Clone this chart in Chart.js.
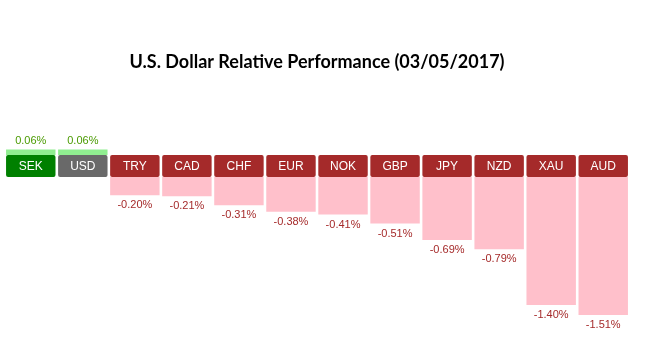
<!DOCTYPE html>
<html>
<head>
<meta charset="utf-8">
<script src="https://cdn.jsdelivr.net/npm/chart.js@4/dist/chart.umd.min.js"></script>
<style>
  html, body { margin: 0; padding: 0; background: #ffffff; }
  #wrap { width: 652px; height: 356px; position: relative; }
</style>
</head>
<body>
<div id="wrap"><canvas id="c" width="652" height="356"></canvas></div>
<script>
// ---- data ----
const categories = ['SEK', 'USD', 'TRY', 'CAD', 'CHF', 'EUR', 'NOK', 'GBP', 'JPY', 'NZD', 'XAU', 'AUD'];
const changes = [0.06, 0.06, -0.20, -0.21, -0.31, -0.38, -0.41, -0.51, -0.69, -0.79, -1.40, -1.51];
const valueLabels = ['0.06%', '0.06%', '-0.20%', '-0.21%', '-0.31%', '-0.38%', '-0.41%', '-0.51%', '-0.69%', '-0.79%', '-1.40%', '-1.51%'];
const titleText = 'U.S. Dollar Relative Performance (03/05/2017)';

// ---- styling ----
const BOX = 0.2407; // height of the currency label box, in value units
const boxColor = (c, v) => c === 'SEK' ? '#008000' : (c === 'USD' ? '#696969' : (v < 0 ? '#a52a2a' : '#008000'));

const barData = changes.map(v => v >= 0 ? [0, v] : [-BOX, -BOX + v]);
const boxData = changes.map(() => [-BOX, 0]);

const labelPlugin = {
  id: 'labels',
  afterDatasetsDraw(chart) {
    const ctx = chart.ctx;
    const boxMeta = chart.getDatasetMeta(1);
    const barMeta = chart.getDatasetMeta(0);
    ctx.save();
    ctx.textAlign = 'center';
    ctx.textBaseline = 'middle';
    boxMeta.data.forEach((el, i) => {
      ctx.font = '12px "Liberation Sans", Arial, sans-serif';
      ctx.fillStyle = '#ffffff';
      const cy = (el.y + el.base) / 2;
      ctx.fillText(categories[i], el.x, cy + 0.5);
    });
    barMeta.data.forEach((el, i) => {
      ctx.font = '11px "Liberation Sans", Arial, sans-serif';
      const v = changes[i];
      if (v >= 0) {
        ctx.fillStyle = '#4a9a00';
        ctx.fillText(valueLabels[i], el.x, el.y - 9);
      } else {
        ctx.fillStyle = '#a52a2a';
        ctx.fillText(valueLabels[i], el.x, el.y + 10);
      }
    });
    ctx.restore();
  }
};

new Chart(document.getElementById('c'), {
  type: 'bar',
  data: {
    labels: categories,
    datasets: [
      {
        data: barData,
        backgroundColor: changes.map(v => v >= 0 ? '#90ee90' : '#ffc0cb'),
        borderWidth: 0,
        grouped: false,
        barPercentage: 0.95,
        categoryPercentage: 1.0
      },
      {
        data: boxData,
        backgroundColor: categories.map((c, i) => boxColor(c, changes[i])),
        borderWidth: 0,
        borderRadius: 2,
        borderSkipped: false,
        grouped: false,
        barPercentage: 0.95,
        categoryPercentage: 1.0
      }
    ]
  },
  options: {
    responsive: false,
    animation: false,
    devicePixelRatio: 1,
    layout: { padding: { left: 4.75, right: 22.75, top: 0, bottom: 18.2 } },
    plugins: {
      legend: { display: false },
      tooltip: { enabled: false },
      title: {
        display: true,
        text: titleText,
        color: '#000000',
        font: { family: 'Lato, "Open Sans", sans-serif', size: 18, weight: 'bold', lineHeight: 1.2 },
        padding: { top: 51.2, bottom: 36.5 }
      }
    },
    scales: {
      x: { display: false },
      y: { display: false, min: -2.0, max: 0.5 }
    }
  },
  plugins: [labelPlugin]
});
</script>
</body>
</html>
